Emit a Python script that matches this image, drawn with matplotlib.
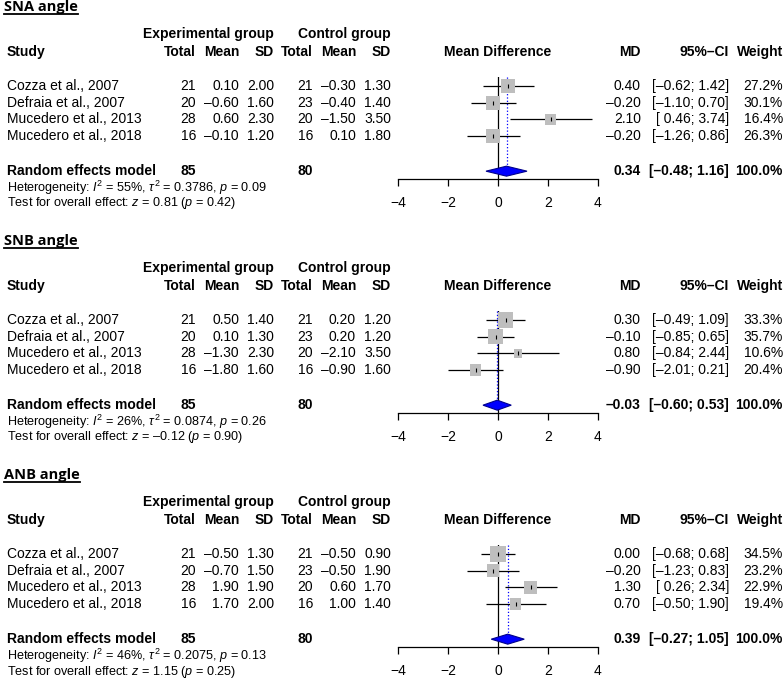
import matplotlib
matplotlib.use('Agg')
import matplotlib.pyplot as plt
from matplotlib.transforms import blended_transform_factory
from matplotlib.lines import Line2D

plt.rcParams['font.family'] = ['Liberation Sans', 'DejaVu Sans']
plt.rcParams['mathtext.fontset'] = 'custom'
plt.rcParams['mathtext.rm'] = 'Liberation Sans'
plt.rcParams['mathtext.it'] = 'Liberation Sans:italic'

# ---- data ----
studies = ['Cozza et al., 2007', 'Defraia et al., 2007',
           'Mucedero et al., 2013', 'Mucedero et al., 2018']
exp_total = [21, 20, 28, 16]
ctrl_total = [21, 23, 20, 16]

sna_exp_mean = [0.10, -0.60, 0.60, -0.10]
sna_exp_sd = [2.00, 1.60, 2.30, 1.20]
sna_ctrl_mean = [-0.30, -0.40, -1.50, 0.10]
sna_ctrl_sd = [1.30, 1.40, 3.50, 1.80]
sna_md = [0.40, -0.20, 2.10, -0.20]
sna_lo = [-0.62, -1.10, 0.46, -1.26]
sna_hi = [1.42, 0.70, 3.74, 0.86]
sna_weight = [27.2, 30.1, 16.4, 26.3]
sna_pooled = [0.34, -0.48, 1.16]
sna_het = [55, 0.3786, 0.09]
sna_test = [0.81, 0.42]

snb_exp_mean = [0.50, 0.10, -1.30, -1.80]
snb_exp_sd = [1.40, 1.30, 2.30, 1.60]
snb_ctrl_mean = [0.20, 0.20, -2.10, -0.90]
snb_ctrl_sd = [1.20, 1.20, 3.50, 1.60]
snb_md = [0.30, -0.10, 0.80, -0.90]
snb_lo = [-0.49, -0.85, -0.84, -2.01]
snb_hi = [1.09, 0.65, 2.44, 0.21]
snb_weight = [33.3, 35.7, 10.6, 20.4]
snb_pooled = [-0.03, -0.60, 0.53]
snb_het = [26, 0.0874, 0.26]
snb_test = [-0.12, 0.90]

anb_exp_mean = [-0.50, -0.70, 1.90, 1.70]
anb_exp_sd = [1.30, 1.50, 1.90, 2.00]
anb_ctrl_mean = [-0.50, -0.50, 0.60, 1.00]
anb_ctrl_sd = [0.90, 1.90, 1.70, 1.40]
anb_md = [0.00, -0.20, 1.30, 0.70]
anb_lo = [-0.68, -1.23, 0.26, -0.50]
anb_hi = [0.68, 0.83, 2.34, 1.90]
anb_weight = [34.5, 23.2, 22.9, 19.4]
anb_pooled = [0.39, -0.27, 1.05]
anb_het = [46, 0.2075, 0.13]
anb_test = [1.15, 0.25]

panels = [
    ('SNA angle', sna_exp_mean, sna_exp_sd, sna_ctrl_mean, sna_ctrl_sd,
     sna_md, sna_lo, sna_hi, sna_weight, sna_pooled, sna_het, sna_test),
    ('SNB angle', snb_exp_mean, snb_exp_sd, snb_ctrl_mean, snb_ctrl_sd,
     snb_md, snb_lo, snb_hi, snb_weight, snb_pooled, snb_het, snb_test),
    ('ANB angle', anb_exp_mean, anb_exp_sd, anb_ctrl_mean, anb_ctrl_sd,
     anb_md, anb_lo, anb_hi, anb_weight, anb_pooled, anb_het, anb_test),
]

W, H = 784, 680
FS = 10
ROW = 16.7
panel_top = [34, 268, 502]   # px of the "Experimental group" line

def f2(v):
    return f'{v:.2f}'.replace('-', '\u2013')

def ci(lo, hi):
    s = f2(lo)
    if lo >= 0:
        s = ' ' + s
    return '[' + s + '; ' + f2(hi) + ']'

fig = plt.figure(figsize=(W / 100, H / 100), dpi=100)

titles = []
for (name, em, esd, cm, csd, md, lo, hi, wt, pooled, het, test), y0 in zip(panels, panel_top):
    ax = fig.add_axes([398 / W, 1 - (y0 + 145) / H, 200 / W, 102 / H])
    ax.set_xlim(-4, 4)
    ax.set_ylim(1 + 93 / ROW, 1 - 9 / ROW)
    for s in ['top', 'left', 'right']:
        ax.spines[s].set_visible(False)
    ax.spines['bottom'].set_bounds(-4, 4)
    ax.spines['bottom'].set_linewidth(0.9)
    ax.set_yticks([])
    ax.set_xticks([-4, -2, 0, 2, 4])
    ax.tick_params(axis='x', length=5, width=0.9, pad=7, labelsize=FS)
    ax.patch.set_alpha(0)

    rows = [1, 2, 3, 4]
    prow = 6.1
    ax.axvline(0, color='black', lw=0.9)
    ax.plot([pooled[0], pooled[0]], [1 - 9 / ROW, prow - 0.3], ':', color='blue', lw=0.9)
    ax.hlines(rows, lo, hi, color='black', lw=0.9, zorder=2, clip_on=False)
    sizes = [(2.6 * w ** 0.5 * 0.72) ** 2 for w in wt]
    ax.scatter(md, rows, s=sizes, marker='s', color='#BEBEBE', lw=0, zorder=3)
    ax.scatter(md, rows, s=12, marker='|', color='black', lw=0.8, zorder=4)
    ax.fill([pooled[1], pooled[0], pooled[2], pooled[0]],
            [prow, prow - 0.3, prow, prow + 0.3],
            facecolor='blue', edgecolor='#00008B', lw=0.8, zorder=3)

    tr = blended_transform_factory(fig.transFigure, ax.transData)

    def put(xpx, y, s, ha='right', bold=False, size=FS):
        ax.text(xpx / W, y, s, transform=tr, ha=ha, va='center', fontsize=size,
                fontweight='bold' if bold else 'normal', clip_on=False)

    yg = 1 - 52 / ROW
    yh = 1 - 34 / ROW
    # title, baseline placed in pixels
    t = fig.text(4 / W, 1 - (y0 - 23) / H, name, ha='left', va='baseline',
                 fontsize=10.5, fontweight='bold', family=['Open Sans', 'DejaVu Sans'])
    titles.append((t, y0))
    put(274, yg, 'Experimental group', bold=True)
    put(391, yg, 'Control group', bold=True)
    put(7, yh, 'Study', ha='left', bold=True)
    for xpx, lab in [(196, 'Total'), (239, 'Mean'), (274, 'SD'),
                     (313, 'Total'), (356, 'Mean'), (391, 'SD')]:
        put(xpx, yh, lab, bold=True)
    ax.text(0, yh, 'Mean Difference', ha='center', va='center', fontsize=FS,
            fontweight='bold', clip_on=False)
    put(641, yh, 'MD', bold=True)
    put(729, yh, '95%\u2013CI', bold=True)
    put(783, yh, 'Weight', bold=True)

    for i, r in enumerate(rows):
        put(7, r, studies[i], ha='left')
        put(196, r, str(exp_total[i]))
        put(239, r, f2(em[i]))
        put(274, r, f2(esd[i]))
        put(313, r, str(ctrl_total[i]))
        put(356, r, f2(cm[i]))
        put(391, r, f2(csd[i]))
        put(641, r, f2(md[i]))
        put(729, r, ci(lo[i], hi[i]))
        put(783, r, f'{wt[i]:.1f}%')

    put(7, prow, 'Random effects model', ha='left', bold=True)
    put(196, prow, str(sum(exp_total)), bold=True)
    put(313, prow, str(sum(ctrl_total)), bold=True)
    put(641, prow, f2(pooled[0]), bold=True)
    put(729, prow, ci(pooled[1], pooled[2]), bold=True)
    put(783, prow, '100.0%', bold=True)

    het_s = (r'Heterogeneity: $\mathit{I}^2$ = ' + f'{het[0]}%, ' + r'$\tau^2$ = '
             + f'{het[1]:.4f}, ' + r'$\mathit{p}$ = ' + f'{het[2]:.2f}')
    test_s = (r'Test for overall effect: $\mathit{z}$ = ' + f2(test[0]) + r' ($\mathit{p}$ = '
              + f'{test[1]:.2f})')
    put(7, 1 + 101.5 / ROW, het_s, ha='left', size=9.1)
    put(7, 1 + 117.5 / ROW, test_s, ha='left', size=9.1)

fig.canvas.draw()
rend = fig.canvas.get_renderer()
for t, y0 in titles:
    bb = t.get_window_extent(rend)
    yline = 1 - (y0 - 20.5) / H
    fig.add_artist(Line2D([bb.x0 / W, bb.x1 / W], [yline, yline],
                          color='black', lw=1.3, transform=fig.transFigure))

fig.savefig('out.png', dpi=100)
